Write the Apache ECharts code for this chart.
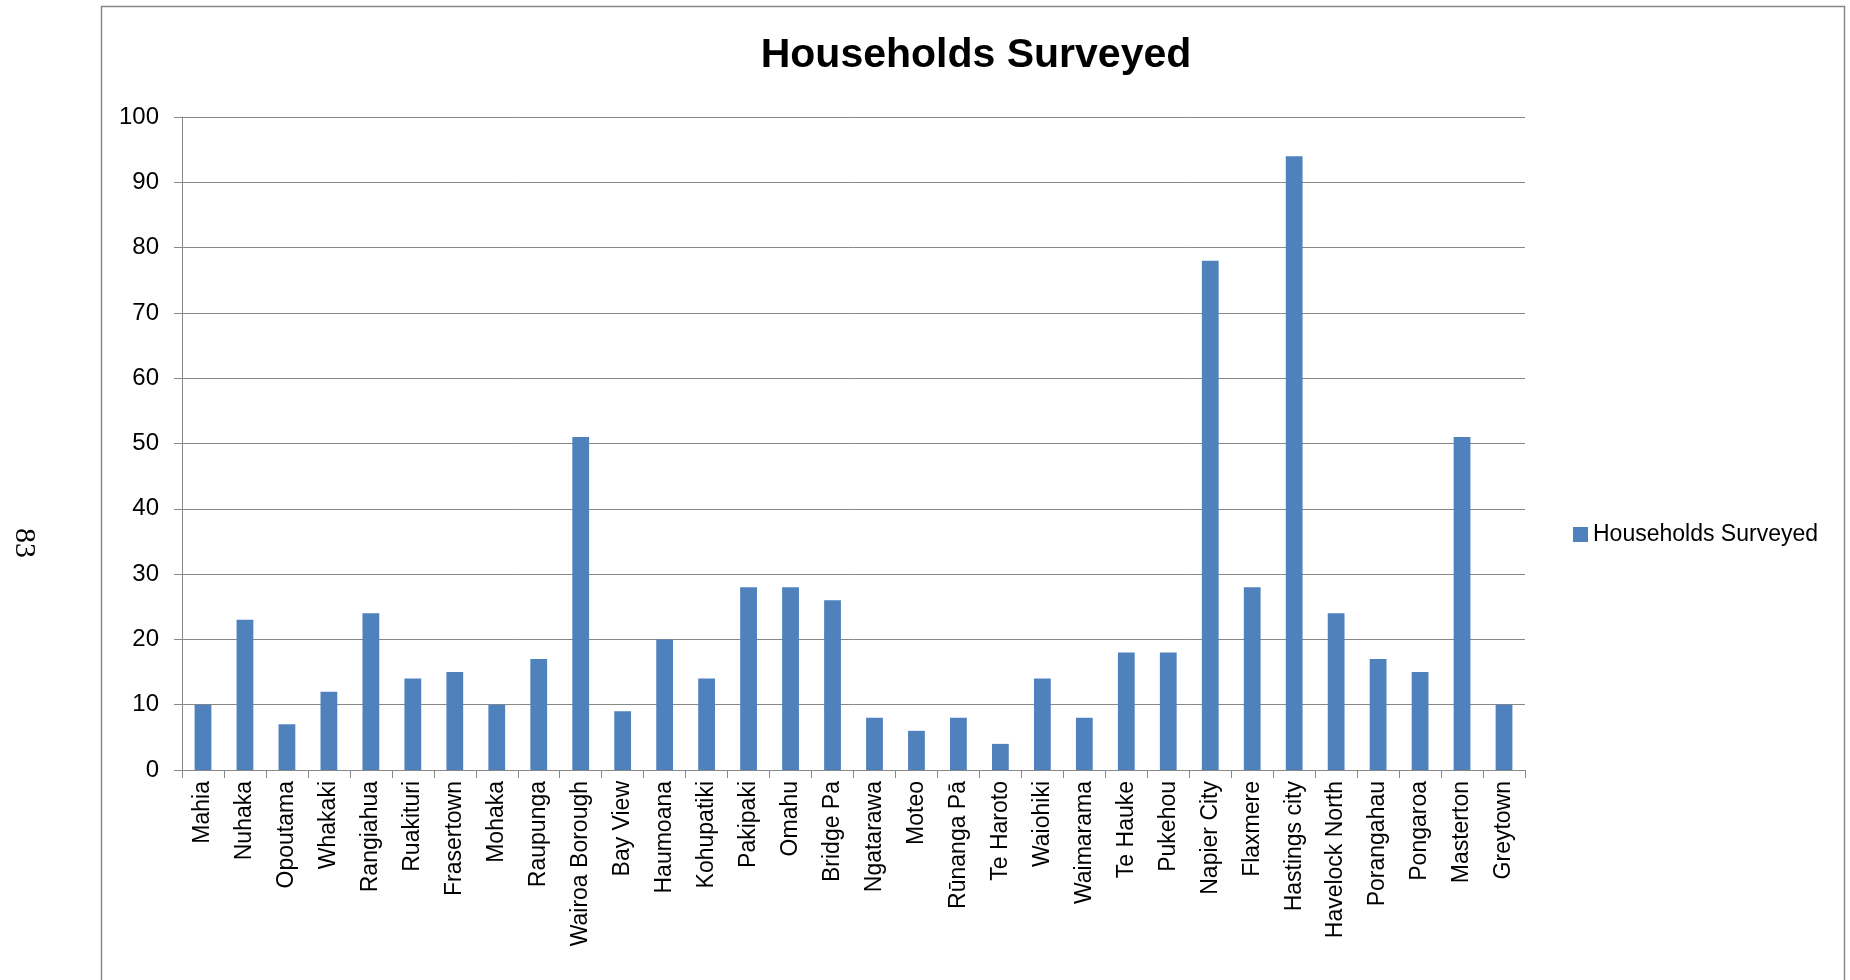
<!DOCTYPE html>
<html>
<head>
<meta charset="utf-8">
<title>Households Surveyed</title>
<script src="https://cdn.jsdelivr.net/npm/echarts@6/dist/echarts.min.js"></script>
<style>
  html, body { margin: 0; padding: 0; background: #ffffff; }
  #chart { width: 1850px; height: 980px; }
</style>
</head>
<body>
<div id="chart"></div>
<script>
// Survey locations, in the order they appear along the axis
const locations = [
  'Mahia', 'Nuhaka', 'Opoutama', 'Whakaki', 'Rangiahua', 'Ruakituri',
  'Frasertown', 'Mohaka', 'Raupunga', 'Wairoa Borough', 'Bay View',
  'Haumoana', 'Kohupatiki', 'Pakipaki', 'Omahu', 'Bridge Pa', 'Ngatarawa',
  'Moteo', 'Rūnanga Pā', 'Te Haroto', 'Waiohiki', 'Waimarama', 'Te Hauke',
  'Pukehou', 'Napier City', 'Flaxmere', 'Hastings city', 'Havelock North',
  'Porangahau', 'Pongaroa', 'Masterton', 'Greytown'
];

// Number of households surveyed at each location
const householdsSurveyed = [
  10, 23, 7, 12, 24, 14,
  15, 10, 17, 51, 9,
  20, 14, 28, 28, 26, 8,
  6, 8, 4, 14, 8, 18,
  18, 78, 28, 94, 24,
  17, 15, 51, 10
];

// Value axis range
const yMin = 0;
const yMax = 100;
const yStep = 10;

const seriesName = 'Households Surveyed';
const pageNumber = '83';

const FONT = '"Liberation Sans", Arial, sans-serif';
const GREY = '#888888';
const BAR_BLUE = '#4F81BD';

const chart = echarts.init(document.getElementById('chart'), null, { renderer: 'canvas' });

chart.setOption({
  backgroundColor: '#ffffff',
  animation: false,
  textStyle: { fontFamily: FONT, color: '#000000' },
  grid: {
    left: 182,
    right: 325,
    top: 117,
    bottom: 210,
    containLabel: false
  },
  legend: {
    data: [seriesName],
    left: 1568,
    top: 518,
    orient: 'vertical',
    icon: 'rect',
    itemWidth: 15,
    itemHeight: 15,
    textStyle: { fontFamily: FONT, fontSize: 23, color: '#000000' },
    selectedMode: false
  },
  xAxis: {
    type: 'category',
    data: locations,
    axisLine: { show: true, lineStyle: { color: GREY, width: 1 } },
    axisTick: { show: true, length: 8, lineStyle: { color: GREY, width: 1 } },
    axisLabel: {
      interval: 0,
      rotate: 90,
      margin: 11,
      fontFamily: FONT,
      fontSize: 23,
      color: '#000000'
    },
    splitLine: { show: false }
  },
  yAxis: {
    type: 'value',
    min: yMin,
    max: yMax,
    interval: yStep,
    axisLine: { show: true, lineStyle: { color: GREY, width: 1 } },
    axisTick: { show: true, length: 8, lineStyle: { color: GREY, width: 1 } },
    axisLabel: {
      margin: 23,
      fontFamily: FONT,
      fontSize: 24,
      color: '#000000'
    },
    splitLine: { show: true, lineStyle: { color: GREY, width: 1 } }
  },
  series: [{
    name: seriesName,
    type: 'bar',
    data: householdsSurveyed,
    barWidth: '40%',
    itemStyle: { color: BAR_BLUE },
    emphasis: { disabled: true }
  }],
  graphic: [
    {
      // frame around the chart
      type: 'rect',
      silent: true,
      shape: { x: 101.5, y: 6.5, width: 1743, height: 1000 },
      style: { fill: 'none', stroke: GREY, lineWidth: 1.5 }
    },
    {
      type: 'text',
      silent: true,
      x: 976,
      y: 56,
      style: {
        text: 'Households Surveyed',
        font: 'bold 41px ' + FONT,
        fill: '#000000',
        align: 'center',
        verticalAlign: 'middle',
        textAlign: 'center',
        textVerticalAlign: 'middle'
      }
    },
    {
      // page number, printed sideways in the margin
      type: 'text',
      silent: true,
      x: 24,
      y: 543,
      rotation: -Math.PI / 2,
      style: {
        text: pageNumber,
        font: '30px "Liberation Serif", "Times New Roman", serif',
        fill: '#000000',
        align: 'center',
        verticalAlign: 'middle',
        textAlign: 'center',
        textVerticalAlign: 'middle'
      }
    }
  ]
});
</script>
</body>
</html>
